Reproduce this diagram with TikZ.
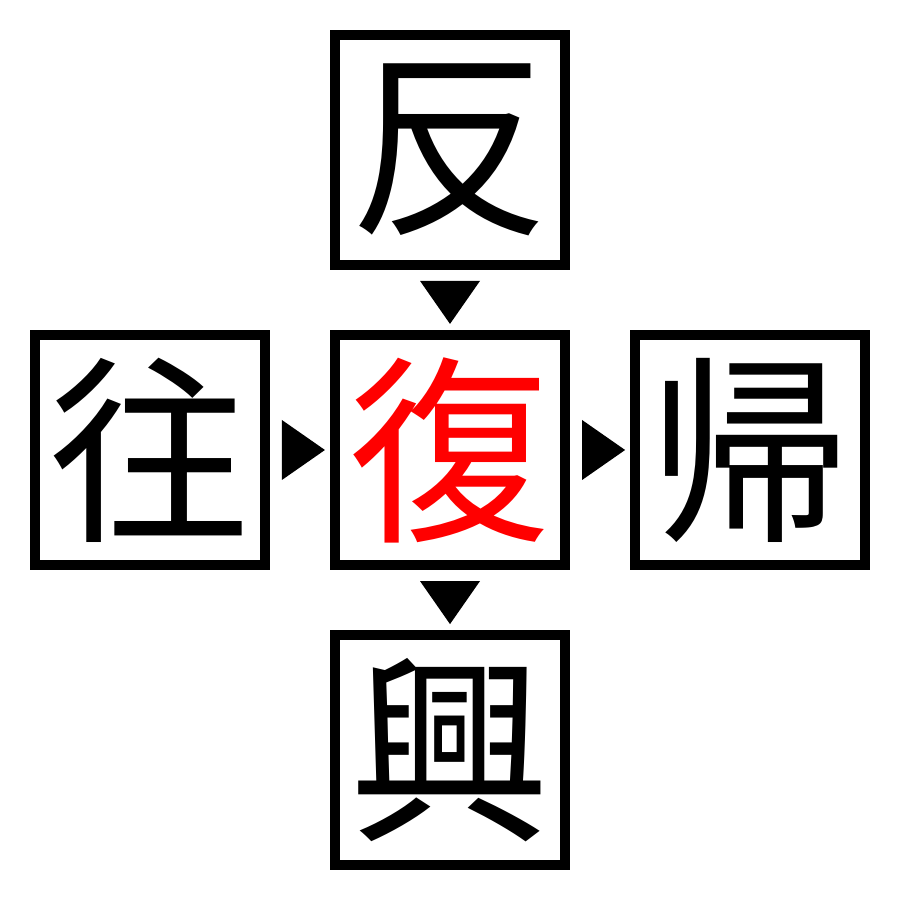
\documentclass[tikz,border=0pt]{standalone}
\usepackage{fontspec}
\newfontfamily\cjk{Noto Sans CJK JP}
\usetikzlibrary{positioning}
\begin{document}
\begin{tikzpicture}[x=0.01cm,y=0.01cm]
	
		\tikzset{
		  zibox/.style={
			draw,
			line width=0.1cm,
			minimum size=2.3cm,
			inner sep=0pt,
			font=\cjk\fontsize{57}{57}\selectfont,
		  },
		  pointer/.style={
			fill=black,
		  },
		}
		\useasboundingbox[fill=white] (0,0) rectangle (900,900);
		\node[zibox,text=red] (fu) at (450,450) {復};
		\node[zibox,above=0.6cm of fu] (fan) {反};
		\node[zibox,below=0.6cm of fu] (xing) {興};
		\node[zibox,left=0.6cm of fu] (wang) {往};
		\node[zibox,right=0.6cm of fu] (gui) {帰};
		\fill[pointer] ([shift={(-30,-11)}]fan.south) -- ([shift={(30,-11)}]fan.south) -- ([shift={(0,6)}]fu.north) -- cycle;
		\fill[pointer] ([shift={(-30,-11)}]fu.south) -- ([shift={(30,-11)}]fu.south) -- ([shift={(0,6)}]xing.north) -- cycle;
		\fill[pointer] ([shift={(12,30)}]wang.east) -- ([shift={(12,-30)}]wang.east) -- ([shift={(-5,0)}]fu.west) -- cycle;
		\fill[pointer] ([shift={(12,30)}]fu.east) -- ([shift={(12,-30)}]fu.east) -- ([shift={(-5,0)}]gui.west) -- cycle;
	
	\end{tikzpicture}
\end{document}
